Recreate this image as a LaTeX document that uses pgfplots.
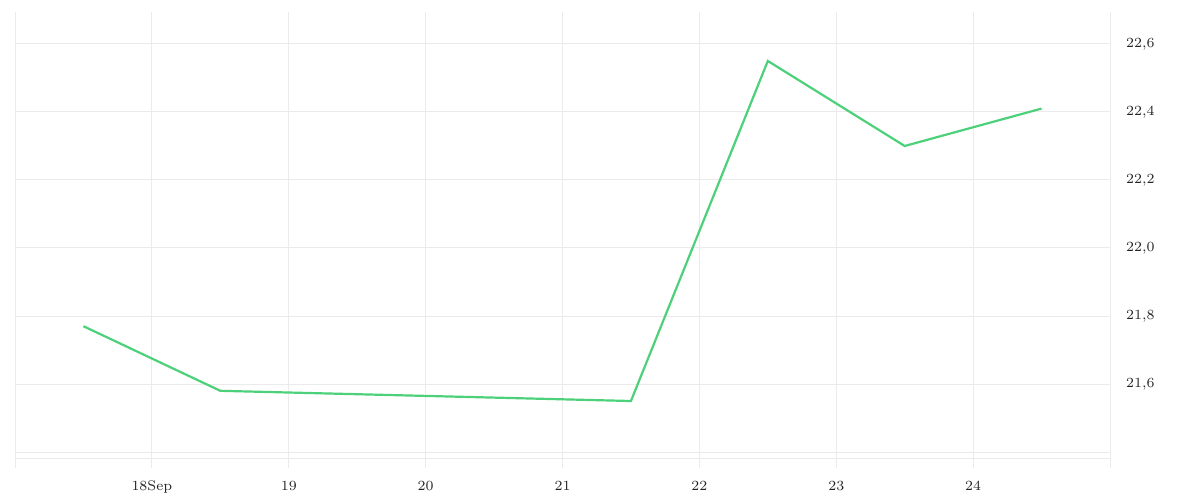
\documentclass[border=0pt]{standalone}
\usepackage{pgfplots}
\pgfplotsset{compat=1.18}
\definecolor{linegreen}{HTML}{4CD17A}
\definecolor{gridgray}{HTML}{EBEBEB}
\definecolor{labelgray}{HTML}{222222}
\begin{document}
\begin{tikzpicture}[x=0.5pt,y=0.5pt]
\begin{axis}[
    at={(7.5pt,16pt)}, anchor=south west,
    scale only axis,
    width=547.5pt, height=228pt,
    xmin=17, xmax=25,
    ymin=21.353, ymax=22.694,
    axis line style={draw=none},
    xtick={17,18,19,20,21,22,23,24,25},
    xticklabels={,18Sep,19,20,21,22,23,24,},
    ytick={21.4,21.6,21.8,22.0,22.2,22.4,22.6},
    yticklabels={,{21,6},{21,8},{22,0},{22,2},{22,4},{22,6}},
    yticklabel pos=right,
    major tick length=0pt,
    xmajorgrids=true, ymajorgrids=true,
    grid style={gridgray, line width=0.5pt},
    tick label style={font=\fontsize{7}{8}\selectfont, text=labelgray},
    xticklabel style={yshift=-3pt},
    yticklabel style={anchor=west, xshift=4.5pt},
    clip=false,
]
\draw[gridgray, line width=0.5pt] (axis cs:17,21.382) -- (axis cs:25,21.382);
\addplot[color=linegreen, line width=1.1pt, mark=none]
    coordinates {
    (17.5,21.77)(18.5,21.58)(21.5,21.55)(22.5,22.55)(23.5,22.30)(24.5,22.41)
    };
\end{axis}
\pgfresetboundingbox
\path (0,0) rectangle (1200,500);
\end{tikzpicture}
\end{document}
